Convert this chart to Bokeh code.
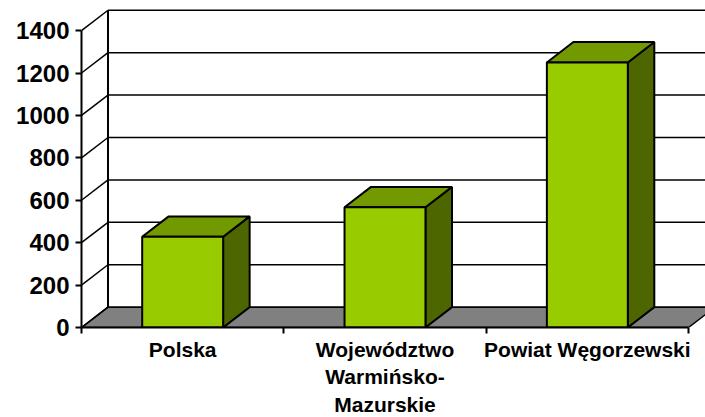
from bokeh.plotting import figure
from bokeh.models import Range1d, FixedTicker
from bokeh.embed import file_html
from bokeh.resources import INLINE

# ---- data ----
categories = ["Polska", "Województwo\nWarmińsko-\nMazurskie", "Powiat Węgorzewski"]
values = [428, 567, 1250]
y_ticks = [0, 200, 400, 600, 800, 1000, 1200, 1400]

# ---- styling / 3D projection constants ----
FRONT = "#99CC00"
TOP = "#739900"
SIDE = "#4D6600"
FLOOR = "#808080"
DX = 0.131      # depth offset in category units
DY = 96.0       # depth offset in value units
BAR_W = 0.4
N = len(categories)
X_END = 3.084
Y_END = 1542

p = figure(frame_width=624, frame_height=327, output_backend="svg", toolbar_location=None,
           x_range=Range1d(0, X_END), y_range=Range1d(0, Y_END),
           min_border_left=81, min_border_right=0, min_border_top=0, min_border_bottom=90)
p.outline_line_color = None
p.xgrid.visible = False
p.ygrid.visible = False
p.background_fill_color = "white"
p.border_fill_color = "white"

# floor
p.patch([0, N, N + DX, DX], [0, 0, DY, DY], fill_color=FLOOR, line_color="black", line_width=1.5)

# back wall gridlines and side wall diagonals
top_val = y_ticks[-1]
p.multi_line([[DX, X_END + 1] for t in y_ticks], [[t + DY, t + DY] for t in y_ticks],
             line_color="black", line_width=1.5)
p.multi_line([[0, DX] for t in y_ticks], [[t, t + DY] for t in y_ticks],
             line_color="black", line_width=1.5)
p.line([DX, DX], [DY, top_val + DY], line_color="black", line_width=2)

# bars
fx, fy, tx, ty, sx, sy = [], [], [], [], [], []
for i, v in enumerate(values):
    x0 = i + 0.5 - BAR_W / 2
    x1 = i + 0.5 + BAR_W / 2
    fx.append([x0, x1, x1, x0]); fy.append([0, 0, v, v])
    tx.append([x0, x1, x1 + DX, x0 + DX]); ty.append([v, v, v + DY, v + DY])
    sx.append([x1, x1 + DX, x1 + DX, x1]); sy.append([0, DY, v + DY, v])
p.patches(sx, sy, fill_color=SIDE, line_color="black", line_width=2)
p.patches(tx, ty, fill_color=TOP, line_color="black", line_width=2)
p.patches(fx, fy, fill_color=FRONT, line_color="black", line_width=2)

# axes
ya = p.yaxis[0]
ya.ticker = FixedTicker(ticks=y_ticks)
ya.bounds = (0, top_val)
ya.major_tick_in = 0
ya.major_tick_out = 6
ya.minor_tick_line_color = None
ya.axis_line_width = 2
ya.major_tick_line_width = 2
ya.major_label_standoff = 6
ya.major_label_text_font = "Liberation Sans"
ya.major_label_text_font_style = "bold"
ya.major_label_text_font_size = "24px"
ya.major_label_text_color = "black"

xa = p.xaxis[0]
centers = [i + 0.5 for i in range(N)]
xa.ticker = FixedTicker(ticks=centers, minor_ticks=list(range(N + 1)))
xa.bounds = (0, N)
xa.major_tick_in = 0
xa.major_tick_out = 6
xa.major_tick_line_color = None
xa.minor_tick_in = 0
xa.minor_tick_out = 6
xa.minor_tick_line_width = 2
xa.minor_tick_line_color = "black"
xa.axis_line_width = 2
xa.major_label_overrides = {c: lab for c, lab in zip(centers, categories)}
xa.major_label_standoff = 4
xa.major_label_text_font = "Liberation Sans"
xa.major_label_text_font_style = "bold"
xa.major_label_text_font_size = "21px"
xa.major_label_text_line_height = 1.2
xa.major_label_text_color = "black"

open("out.html", "w").write(file_html(p, INLINE))
